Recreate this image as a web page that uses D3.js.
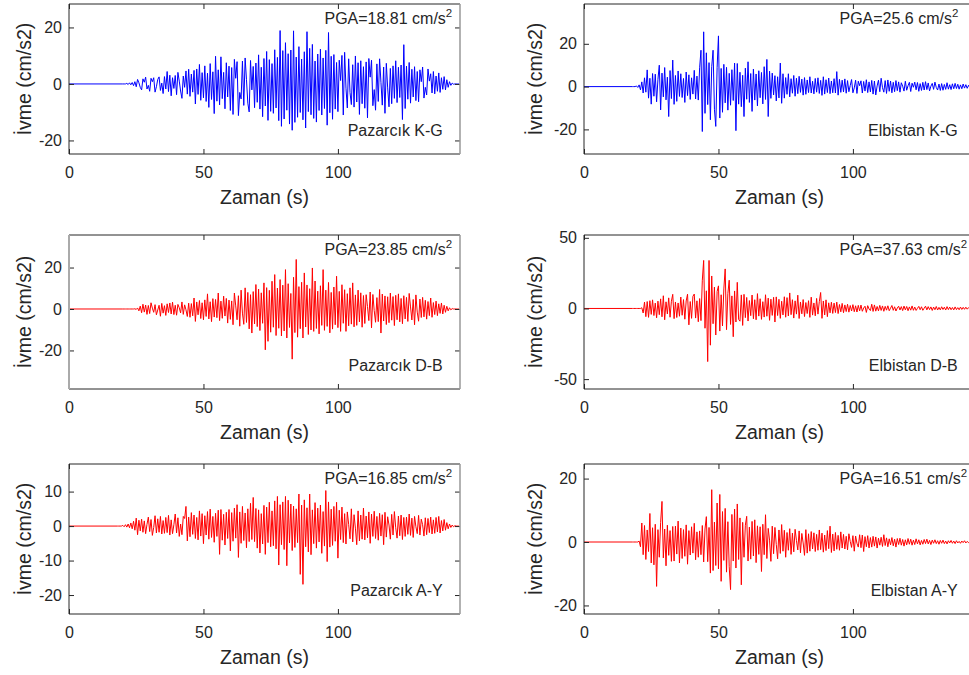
<!DOCTYPE html>
<meta charset="utf-8">
<script src="https://d3js.org/d3.v7.min.js"></script>
<style>
    body { margin: 0; background-color: white; }
    svg { display: block; }
    text { font-family: "Liberation Sans", Arial, Helvetica, sans-serif; fill: #262626; }
</style>
<body>
<script>
    // ivme kayitlari (cm/s2), 0.5 s aralikla, kayit baslangic zamanindan itibaren
    var dt = 0.5;

    var pazarcikKG = [
        0, 0, 0, 0.2, -0.2, 0.4, -0.3, 0.5, -0.6, 0.8,
        -1.0, 1.6, 0.4, -1.2, -2.1, 1.8, 0.6, 2.4, -1.8, -0.5,
        -2.6, 2.0, 0.8, 2.2, -2.9, -1.0, 1.6, 2.5, -2.3, 0.3,
        -3.4, 2.6, -1.8, 4.4, -2.7, 3.1, -4.2, 2.2, -1.6, 3.0,
        -3.8, 4.1, 1.0, -2.5, -5.1, 2.8, -1.2, 4.6, -3.6, 5.2,
        -4.4, 3.5, -2.9, 4.8, -7.1, 5.3, -3.7, 6.9, -5.8, 4.0,
        -4.9, 6.4, -6.2, 3.8, -8.3, 7.2, -5.5, 4.3, -10.5, 9.8,
        -6.1, 5.0, -7.4, 9.6, -5.2, 4.1, -8.8, 7.5, -4.6, 6.3,
        -9.4, 5.8, -10.8, 8.7, 2.0, 7.9, -11.2, -3.0, -5.3, 8.1,
        -7.6, 9.2, 1.5, -6.8, -9.9, 8.3, -2.1, 6.2, -8.4, 7.4,
        -6.5, 10.3, -8.9, 5.9, -11.6, 9.0, -7.8, 11.5, -12.9, 8.6,
        -9.7, 7.2, -10.4, 12.1, -8.5, 9.4, -13.0, 18.9, -15.0, 11.8,
        -12.4, 14.6, -9.3, 10.7, -14.2, 12.0, -16.4, 18.8, -13.6, 9.5,
        -11.8, 13.2, -10.1, 8.8, -12.7, 11.4, -15.6, 18.5, -9.8, 12.6,
        -10.9, 14.0, -12.2, 8.1, -13.5, 10.6, -9.4, 12.3, -11.0, 9.2,
        -8.7, 11.9, -14.6, 18.2, -10.2, 9.8, -12.5, 10.4, -8.9, 7.6,
        -9.8, 8.4, 1.2, 10.1, -11.0, 11.2, -1.5, -8.5, 8.9, -3.0,
        -7.3, 6.8, -8.2, 9.9, -6.4, 7.5, -10.8, 8.2, -7.0, 6.1,
        -8.6, 7.8, -12.0, 9.0, 2.4, 8.4, -7.7, -2.0, -9.3, 7.1,
        -6.2, 8.9, 0.6, -7.5, 6.0, -10.4, 7.3, -1.4, -8.1, 5.5,
        -7.0, 6.4, -5.1, 8.2, -6.6, 5.9, -4.8, 6.7, -12.6, 13.9,
        -8.7, 6.3, -5.4, 7.6, -6.8, 5.2, -4.6, 6.1, -5.9, 4.4,
        -6.3, 5.0, 0.8, 6.0, -5.0, -1.2, -3.9, 5.3, 1.0, 3.6,
        -3.2, 4.4, -3.5, 2.8, -2.6, 3.9, -3.0, 2.2, -1.9, 2.6,
        -2.1, 1.5, -1.2, 0.8, -0.5, 0.3, -0.1, 0, 0, 0,
        0
    ];

    var elbistanKG = [
        0, 0, 0, 0.3, -0.4, 0.8, -1.5, 2.2, -3.0, 4.1,
        -2.6, 7.8, -5.4, 3.9, -8.2, 6.1, -4.5, 5.8, -7.1, 3.4,
        10.0, -10.9, 6.3, -4.8, 8.9, -6.2, 4.4, -14.0, 7.5, -5.6,
        12.4, -8.3, 5.2, -6.9, 7.3, -4.6, 6.0, -5.1, 3.8, -7.4,
        6.8, -4.2, 5.5, -6.0, 4.1, -3.5, 7.6, -5.8, 4.9, -6.3,
        8.8, 17.0, -21.0, 25.6, -12.5, 15.8, -8.4, 11.2, -15.5, 9.3,
        17.0, -10.6, -18.6, 9.0, 23.7, -14.7, 8.5, -12.0, 10.4, -7.6,
        9.0, -11.0, 6.2, -8.7, 7.9, -6.5, 11.0, -20.6, 10.8, -8.2,
        6.7, -9.4, 5.3, -14.0, 8.6, -5.9, 11.6, -7.4, 6.1, -11.6,
        8.2, -6.3, 5.9, -9.0, 7.4, -5.2, 6.6, -8.1, 9.3, -6.0,
        12.7, -14.0, 7.2, -5.5, 6.3, -3.9, 5.1, -6.7, 4.6, -5.3,
        11.0, -7.8, 6.0, -5.4, 4.2, -3.6, 6.0, -4.8, 3.7, -3.1,
        5.2, -4.5, 3.9, -3.3, 4.8, -2.7, 3.5, -4.0, 4.2, -3.6,
        3.1, -2.8, 4.6, -3.0, 2.5, -3.4, 3.8, -2.6, 4.1, -3.2,
        2.9, -4.1, 4.6, -3.5, 3.2, -2.8, 4.0, -3.3, 2.6, -2.9,
        3.7, -3.0, 7.0, -4.0, 3.4, -2.7, 3.0, -2.5, 3.6, -3.1,
        2.8, -2.4, 0.5, 3.3, -2.9, -0.6, 3.0, -3.2, 2.5, 0.4,
        2.7, -3.0, 2.4, -2.1, 3.2, -2.8, 2.2, -2.5, 2.9, -3.5,
        2.6, -3.9, 0.3, 3.0, -2.4, 3.9, -0.5, -2.6, 2.8, -3.2,
        3.1, -2.2, 2.6, -2.9, 2.0, -2.4, 2.8, -1.9, 2.2, -2.6,
        1.8, 0.2, -2.1, 2.5, -1.7, 0.4, 2.0, -2.3, 1.6, -0.3,
        2.1, -1.5, 1.9, -2.2, 1.4, -1.8, 2.0, -1.6, 2.3, -1.4,
        1.7, -2.0, 0.2, 1.5, -1.3, 2.1, -0.4, -1.6, 1.2, -1.8,
        1.4, -1.7, 1.0, -1.3, 1.8, -1.2, 0.9, -1.4, 1.3, -1.0,
        1.5, -0.9, 1.1, -1.2, 0.8, -1.0, 1.2, -0.7, 0.9, -0.8,
        0.6, -0.5, 0.4, -0.3, 0.3
    ];

    var pazarcikDB = [
        0, 0, 0, 0, 0, 0, 0, 0, 0, 0.1,
        -0.2, 0.5, -0.9, 1.4, -1.8, 2.3, -1.5, 1.9, -2.6, 1.7,
        -2.2, 3.0, 0.4, -1.6, 2.1, -2.8, -0.5, 1.8, -3.5, 2.7,
        -2.0, 1.6, -3.1, 2.5, -1.7, 2.9, -2.4, 3.3, -2.7, 1.8,
        -3.0, 2.2, 0.6, -1.9, 3.4, -2.6, 2.0, -0.4, -3.6, 2.8,
        -4.0, 2.6, -3.3, 5.3, -6.0, 3.4, -2.8, 4.1, -4.6, 3.0,
        -5.2, 4.4, -3.6, 7.3, -4.8, 3.5, -6.1, 5.0, -3.9, 4.6,
        -4.2, 7.7, -5.6, 3.8, -4.5, 6.2, -3.4, 5.1, -6.8, 4.3,
        -5.0, 3.9, -7.6, 7.7, 1.5, -5.2, 6.4, -8.3, 9.1, -2.0,
        -7.4, 10.2, -6.5, 8.0, -9.6, 6.9, -11.6, 8.4, -7.2, 11.8,
        -8.5, 9.6, -10.4, 7.8, -6.9, 12.6, -19.7, 10.3, -15.6, 9.0,
        -11.2, 13.4, -8.8, 16.6, -12.8, 10.1, -9.3, 14.2, -13.0, 11.5,
        -10.6, 19.0, -14.0, 12.2, -8.9, 7.5, -24.2, 15.3, -11.4, 23.9,
        -13.6, 10.8, -9.5, 12.9, -14.0, 17.4, -8.7, 11.6, -12.3, 9.8,
        -10.1, 19.8, -10.8, 13.5, -9.4, 8.6, -12.0, 11.2, -7.9, 19.0,
        -10.3, 9.1, -8.4, 12.8, -11.5, 8.0, -9.7, 10.6, -7.6, 15.8,
        -9.0, 8.5, -10.8, 11.7, -6.9, 9.3, -10.8, 7.4, -8.1, 10.2,
        -7.3, 12.6, -8.6, 6.8, -7.9, 9.1, -6.2, 7.8, -8.8, 6.5,
        -7.0, 6.9, 1.2, -5.6, 8.2, -9.1, 7.0, -0.8, -6.4, 5.5,
        -6.1, 9.4, -11.6, 7.2, -5.8, 6.3, -7.5, 5.9, -6.6, 7.7,
        -5.4, 6.0, -8.0, 6.6, -5.2, 7.3, -6.2, 5.1, -7.1, 6.4,
        -4.8, 5.6, -6.0, 7.5, 1.0, -5.3, 4.6, -7.6, 6.8, -1.5,
        -5.9, 4.8, -4.1, 5.6, -3.8, 4.2, -4.9, 3.6, -3.2, 5.3,
        -4.0, 3.1, -2.7, 3.8, -3.2, 2.5, -2.1, 2.9, -2.4, 1.8,
        -1.6, 1.3, -0.9, 0.6, -0.4, 0.2, 0, 0, 0, 0,
        0
    ];

    var elbistanDB = [
        0, 0, 0, 0, 0, 0, 0, 0.5, -3.2, 4.5,
        -5.8, 4.9, -6.3, 5.5, -4.2, 6.1, -5.0, 3.8, -6.6, 5.2,
        -4.4, 6.8, -5.9, 9.0, -8.0, 4.7, -3.9, 7.5, -6.2, 5.1,
        10.0, -7.2, 4.6, -6.4, 3.9, -5.5, 8.1, -4.8, 6.3, -7.6,
        5.3, 10.1, -11.6, 4.9, -7.0, 8.6, 10.2, -6.8, 5.4, -9.4,
        7.0, -8.6, 20.0, 34.0, -14.0, 12.5, -37.6, 34.0, -26.0, 23.0,
        -10.8, 15.1, -18.8, 12.0, 16.0, -16.0, 9.7, -12.4, 13.8, 28.0,
        -15.0, 10.6, 20.0, -11.3, 8.9, -20.0, 12.4, -9.6, 18.5, -7.8,
        -9.0, 9.6, -12.0, 10.0, -6.5, 7.8, -8.9, 5.6, -5.1, 9.5,
        -7.3, 6.2, -8.0, 10.5, -5.4, 6.9, -7.7, 4.8, -6.1, 9.7,
        -5.5, 7.3, -8.4, 6.6, -4.9, 7.9, -9.6, 8.2, -5.0, 6.5,
        -7.0, 5.1, -4.6, 8.3, -6.2, 7.7, -5.3, 11.0, -4.4, 6.2,
        -6.8, 5.4, -4.0, 9.4, -7.1, 4.6, -3.8, 6.3, -5.7, 4.2,
        -3.6, 5.5, -6.3, 8.0, -4.7, 3.9, -5.2, 7.1, -4.0, 4.8,
        11.3, -7.0, 5.3, -4.6, 6.1, -5.8, 4.0, -3.1, 4.4, -3.5,
        3.8, -2.9, 4.5, -3.6, 2.8, -2.4, 3.6, -3.0, 2.5, -2.2,
        3.0, -2.6, 2.1, -1.8, 2.7, -2.3, 1.9, -2.5, 2.2, -1.7,
        2.4, -2.0, 0.3, 1.6, -2.8, 2.0, -0.4, -1.5, 3.0, -2.1,
        2.5, -1.9, 1.4, -1.7, 2.2, -1.4, 1.8, -2.0, 1.5, -1.2,
        1.9, -1.6, 0.2, 2.1, -1.3, 1.2, -1.8, 0.3, 1.6, -1.1,
        1.3, -1.5, 1.7, -1.0, 1.4, -1.6, 1.1, -1.2, 1.8, -1.3,
        1.0, -1.4, 0.1, 1.5, -0.9, 1.2, -1.3, 0.2, 1.6, -1.0,
        1.3, -0.8, 1.1, -1.4, 1.0, -0.9, 1.4, -1.1, 0.8, -1.0,
        1.2, -0.7, 0.9, -1.1, 1.3, -0.8, 1.0, -0.9, 0.7, -1.0,
        1.1, -0.8, 0.6, -0.9, 1.0, -0.7, 0.8, -0.6, 0.9, -0.5,
        0.6, -0.4, 0.5, -0.3, 0.2
    ];

    var pazarcikAY = [
        0, 0, 0, 0, 0.2, -0.2, 0.4, -0.3, 0.6, -0.5,
        0.9, -0.8, 1.4, -1.2, 2.3, -2.5, 1.7, -1.4, 2.0, -1.8,
        1.5, -2.2, 0.5, 2.6, -1.6, 1.9, -2.7, -0.4, 3.0, -2.0,
        2.1, -1.8, 2.8, -2.3, 1.6, -2.1, 2.5, -1.9, 3.1, -2.6,
        1.8, -2.2, 0.4, 3.5, -2.0, 2.4, -3.0, 0.6, -2.5, 2.8,
        2.2, 5.7, -4.3, 2.6, -3.1, 3.9, -2.4, 3.2, -3.6, 2.5,
        -4.0, 4.4, -2.9, 3.6, -5.1, 3.0, -2.6, 4.2, -3.8, 4.9,
        -3.3, 2.8, -4.7, 3.7, -3.0, 4.6, -8.2, 4.8, -4.1, 3.4,
        -5.5, 4.0, -3.6, 4.8, -7.2, 3.9, -4.4, 5.2, -3.5, 6.2,
        -9.1, 4.1, -5.0, 5.7, -4.2, 3.8, -6.3, 5.0, -4.5, 6.6,
        -3.9, 8.3, -4.5, 5.1, -6.4, 4.7, -7.8, 3.6, -5.2, 6.0,
        -8.2, 5.5, -4.8, 6.9, -6.0, 4.4, -5.7, 7.3, -6.6, 8.6,
        -11.3, 6.2, -5.4, 7.0, -6.8, 8.6, -11.5, 7.5, -4.9, 6.4,
        -7.1, 5.8, -6.2, 5.0, -4.8, 9.3, -14.0, 6.1, -16.9, 7.6,
        -6.0, 5.3, -7.5, 9.3, -8.3, 4.7, -5.1, 6.8, -6.4, 5.2,
        -4.6, 6.1, -7.9, 4.2, -5.8, 10.3, -10.3, 7.0, -6.1, 4.9,
        -5.6, 5.7, -4.4, 6.9, -9.3, 4.6, -3.9, 5.5, -4.8, 3.6,
        -5.2, 4.1, 0.5, -3.7, 5.0, -4.6, 3.3, -0.6, -5.4, 4.4,
        -4.3, 3.2, -3.8, 5.2, -4.0, 2.9, -3.4, 4.1, -5.0, 3.5,
        -3.0, 4.3, -3.6, 2.8, -4.1, 3.7, -2.9, 3.3, -5.4, 4.0,
        -3.2, 2.7, 0.3, -3.8, 3.4, -2.6, 4.2, -0.5, -3.5, 2.9,
        -2.8, 3.2, -3.9, 2.5, -3.0, 2.6, -2.4, 3.5, -2.7, 2.3,
        -3.3, 2.8, -0.2, -2.2, 3.1, -2.6, 2.0, 0.4, -2.9, 2.4,
        -2.5, 2.2, -1.9, 2.6, -2.3, 1.8, -2.1, 2.5, -1.7, 2.8,
        -2.0, 1.6, -1.4, 1.9, -1.2, 1.0, -0.8, 0.6, -0.4, 0.3,
        -0.2, 0.1, 0, 0, 0
    ];

    var elbistanAY = [
        0, 0, 0, 0, 0, 0.3, -1.5, 6.0, -4.0, 5.2,
        -5.5, 3.8, -3.0, 9.0, -6.6, 4.5, -7.2, 5.6, -14.0, 3.9,
        -4.8, 6.2, 12.8, -5.0, 4.1, -7.5, 5.3, -4.2, 3.6, -6.1,
        4.9, -6.0, 5.0, -3.8, 6.6, -6.6, 4.4, -5.2, 3.9, -4.5,
        5.4, -7.0, 3.6, -4.1, 4.8, -3.5, 5.9, -5.6, 3.2, -4.8,
        3.5, -4.0, 5.2, -6.3, 4.1, 8.0, -6.2, 4.6, -9.8, 16.5,
        -9.0, 6.3, -7.4, 12.3, -8.5, 15.0, -12.4, 9.6, -5.8, 10.6,
        -9.5, 6.4, -7.8, -15.0, 8.7, -6.0, 10.4, -8.2, 12.0, -5.5,
        7.6, -13.5, 6.2, -4.8, 5.3, 8.1, -6.0, 4.7, -5.4, 6.5,
        -4.4, 7.0, -6.5, 5.1, -3.9, 4.8, -9.3, 5.6, -4.0, 8.6,
        -5.2, 4.3, 0.6, -6.1, 5.0, -3.7, 4.6, -0.8, -5.3, 3.8,
        -3.6, 5.5, -2.9, 3.7, -4.8, 3.0, -2.6, 4.2, -3.9, 2.8,
        -3.1, 4.0, 0.5, -2.5, 3.5, -3.4, 2.7, -0.3, -4.2, 3.9,
        -3.5, 2.6, -2.9, 3.3, -2.2, 2.9, -3.0, 2.4, -2.6, 3.8,
        -2.4, 2.8, -3.2, 2.2, -2.7, 3.6, -2.1, 5.0, -3.3, 2.5,
        -2.8, 3.0, -2.3, 2.1, -2.6, 3.2, -1.9, 2.4, -2.2, 1.8,
        -2.5, 2.6, 0.2, -1.7, 2.0, -2.9, 1.9, -0.4, -1.6, 2.3,
        -1.8, 2.2, -3.0, 1.7, -1.5, 2.0, -1.9, 1.4, -1.6, 1.8,
        -1.3, 1.6, -1.9, 1.2, -1.0, 1.5, -1.4, 2.3, -1.1, 1.3,
        -1.5, 1.0, -0.9, 1.4, -1.2, 0.9, -1.6, 1.1, -0.8, 1.2,
        -1.0, 0.8, -1.3, 0.7, -0.9, 1.1, -0.7, 0.9, -1.0, 0.6,
        -0.8, 1.0, -0.6, 0.7, -0.9, 0.5, -0.7, 0.8, -0.5, 0.9,
        -0.6, 0.5, -0.8, 0.6, -0.4, 0.7, -0.5, 0.4, -0.7, 0.5,
        -0.4, 0.6, -0.5, 0.3, -0.6, 0.4, -0.3, 0.5, -0.4, 0.3,
        -0.5, 0.4, -0.3, 0.2, -0.4, 0.3, -0.2, 0.4, -0.3, 0.2,
        -0.2, 0.3, -0.1, 0.2, 0
    ];

    var records = [pazarcikKG, elbistanKG, pazarcikDB, elbistanDB, pazarcikAY, elbistanAY];
    var startTimes = [20, 18, 20, 18, 18, 18];
    var stations = ["Pazarcık K-G", "Elbistan K-G", "Pazarcık D-B", "Elbistan D-B", "Pazarcık A-Y", "Elbistan A-Y"];
    var pgaValues = ["18.81", "25.6", "23.85", "37.63", "16.85", "16.51"];
    var xTicks = [0, 50, 100];
    var xLimit = [0, 145.4];
    var yTicks = [[-20, 0, 20], [-20, 0, 20], [-20, 0, 20], [-50, 0, 50], [-20, -10, 0, 10], [-20, 0, 20]];
    var yLimits = [[-24.8, 28.3], [-31.5, 38.6], [-38.6, 35.7], [-57, 52], [-25.5, 18], [-22.7, 24.6]];

    var width = 969, height = 675;
    var panelW = 391;
    var lefts = [69, 584];
    var tops = [4, 235, 464];
    var bottoms = [154, 389, 614];
    var colors = ["#0000ff", "#0000ff", "#ff0000", "#ff0000", "#ff0000", "#ff0000"];

    var svg = d3.select("body").append("svg")
        .attr("width", width)
        .attr("height", height);

    // plain hyphen for negatives, like the original
    var fmt = function (d) { return String(d); };

    records.forEach(function (rec, i) {
        var col = i % 2, row = Math.floor(i / 2);
        var left = lefts[col], top = tops[row], bottom = bottoms[row];

        var x = d3.scaleLinear().domain(xLimit).range([left, left + panelW]);
        var y = d3.scaleLinear().domain(yLimits[i]).range([bottom, top]);

        var points = [[0, 0]];
        rec.forEach(function (v, j) { points.push([startTimes[i] + j * dt, v]); });

        var g = svg.append("g");

        // signal
        g.append("path")
            .datum(points)
            .attr("fill", "none")
            .attr("stroke", colors[i])
            .attr("stroke-width", 1)
            .attr("stroke-linejoin", "round")
            .attr("d", d3.line().x(function (d) { return x(d[0]); }).y(function (d) { return y(d[1]); }));

        // axes (ticks inside, like matlab)
        var xb = g.append("g").attr("transform", "translate(0," + bottom + ")")
            .call(d3.axisBottom(x).tickValues(xTicks).tickSize(-5).tickPadding(12.5).tickFormat(fmt));
        var xt = g.append("g").attr("transform", "translate(0," + top + ")")
            .call(d3.axisTop(x).tickValues(xTicks).tickSize(-5).tickFormat(""));
        var yl = g.append("g").attr("transform", "translate(" + left + ",0)")
            .call(d3.axisLeft(y).tickValues(yTicks[i]).tickSize(-5).tickPadding(7).tickFormat(fmt));
        var yr = g.append("g").attr("transform", "translate(" + (left + panelW) + ",0)")
            .call(d3.axisRight(y).tickValues(yTicks[i]).tickSize(-5).tickFormat(""));

        [xb, xt, yl, yr].forEach(function (a) {
            a.select(".domain").remove();
            a.selectAll("line").attr("stroke", "#262626");
            a.attr("font-size", 16).attr("font-family", null);
            a.selectAll("text").attr("fill", "#262626");
        });

        // box
        g.append("line").attr("x1", left).attr("x2", left + panelW).attr("y1", top).attr("y2", top).attr("stroke", "#262626");
        g.append("line").attr("x1", left).attr("x2", left + panelW).attr("y1", bottom).attr("y2", bottom).attr("stroke", "#262626");
        g.append("line").attr("x1", left).attr("x2", left).attr("y1", top).attr("y2", bottom)
            .attr("stroke", i === 2 ? "#aaa" : "#262626").attr("stroke-width", i === 2 ? 2 : 1);
        g.append("line").attr("x1", left + panelW).attr("x2", left + panelW).attr("y1", top).attr("y2", bottom)
            .attr("stroke", col === 0 ? "#999" : "#262626").attr("stroke-width", col === 0 ? 1.5 : 1);

        // PGA
        var pga = g.append("text")
            .attr("x", x(95))
            .attr("y", top + 20)
            .attr("font-size", 16)
            .text("PGA=" + pgaValues[i] + " cm/s");
        pga.append("tspan").attr("dy", -7).attr("font-size", 11.5).text("2");

        // station
        g.append("text")
            .attr("x", x(139))
            .attr("y", bottom - 18)
            .attr("text-anchor", "end")
            .attr("font-size", 16)
            .text(stations[i]);

        // axis labels
        g.append("text")
            .attr("x", left + panelW / 2)
            .attr("y", bottom + 50)
            .attr("text-anchor", "middle")
            .attr("font-size", 19.5)
            .text("Zaman (s)");

        g.append("text")
            .attr("transform", "translate(" + (left - (col === 0 ? 38 : 42)) + "," + ((top + bottom) / 2) + ") rotate(-90)")
            .attr("text-anchor", "middle")
            .attr("font-size", 19.5)
            .text("İvme (cm/s2)");
    });
</script>
</body>
